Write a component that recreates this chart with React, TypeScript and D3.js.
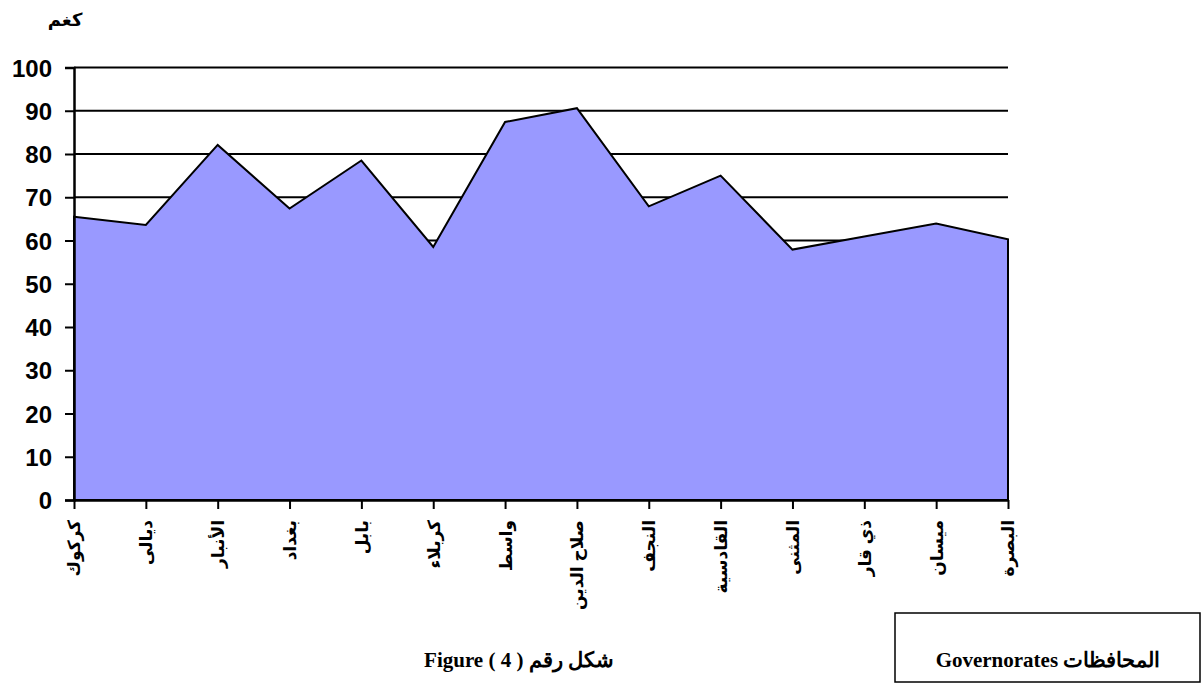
import { useRef, useEffect } from 'react';
import * as d3 from 'd3';

const governorates = [
  'كركوك',
  'ديالى',
  'الأنبار',
  'بغداد',
  'بابل',
  'كربلاء',
  'واسط',
  'صلاح الدين',
  'النجف',
  'القادسية',
  'المثنى',
  'ذي قار',
  'ميسان',
  'البصرة',
];
const values = [65.5, 63.6, 82.1, 67.4, 78.5, 58.5, 87.4, 90.6, 67.9, 75.0, 57.9, 60.9, 63.9, 60.3];
const yTicks = [0, 10, 20, 30, 40, 50, 60, 70, 80, 90, 100];

const unitLabel = 'كغم';
const captionLabel = 'شكل رقم ( 4 ) Figure';
const axisTitle = 'Governorates المحافظات';

export default function App() {
  const svgRef = useRef(null);

  useEffect(() => {
    const svg = d3.select(svgRef.current);
    svg.selectAll('*').remove();

    const left = 74;
    const right = 1008;
    const top = 67.5;
    const bottom = 500;
    const sans = "Arial, 'Liberation Sans', 'DejaVu Sans', sans-serif";
    const serif = "'Times New Roman', 'Liberation Serif', 'DejaVu Serif', serif";

    const x = d3.scalePoint().domain(governorates).range([left, right]);
    const y = d3.scaleLinear().domain([0, 100]).range([bottom, top]);

    // gridlines (behind the area)
    svg
      .append('g')
      .selectAll('line')
      .data(yTicks.filter((t) => t > 0))
      .enter()
      .append('line')
      .attr('x1', left)
      .attr('x2', right)
      .attr('y1', (d) => y(d))
      .attr('y2', (d) => y(d))
      .attr('stroke', 'black')
      .attr('stroke-width', 2);

    const area = d3
      .area()
      .x((d, i) => x(governorates[i]))
      .y0(y(0))
      .y1((d) => y(d));

    svg
      .append('path')
      .datum(values)
      .attr('d', area)
      .attr('fill', '#9999ff')
      .attr('stroke', 'black')
      .attr('stroke-width', 2)
      .attr('stroke-linejoin', 'miter');

    // y axis
    const yAxis = d3.axisLeft(y).tickValues(yTicks).tickSize(9).tickPadding(13);
    const yg = svg.append('g').attr('transform', `translate(${left},0)`).call(yAxis);
    yg.select('.domain').attr('stroke', 'black').attr('stroke-width', 2.5);
    yg.selectAll('.tick line').attr('stroke', 'black').attr('stroke-width', 2);
    yg.selectAll('.tick text')
      .attr('font-family', sans)
      .attr('font-weight', 'bold')
      .attr('font-size', 24)
      .attr('fill', 'black')
      .attr('dy', '0.36em');

    // x axis
    const xAxis = d3.axisBottom(x).tickSize(9).tickSizeOuter(0);
    const xg = svg.append('g').attr('transform', `translate(0,${bottom})`).call(xAxis);
    xg.select('.domain').attr('stroke', 'black').attr('stroke-width', 2.5);
    xg.selectAll('.tick line').attr('stroke', 'black').attr('stroke-width', 2);
    xg.selectAll('.tick text')
      .attr('font-family', sans)
      .attr('font-weight', 'bold')
      .attr('font-size', 17)
      .attr('fill', 'black')
      .attr('text-anchor', 'end')
      .attr('transform', 'rotate(-90)')
      .attr('x', -20)
      .attr('y', 0)
      .attr('dy', '0.35em');

    // unit label
    svg
      .append('text')
      .attr('x', 65)
      .attr('y', 26)
      .attr('text-anchor', 'middle')
      .attr('font-family', sans)
      .attr('font-weight', 'bold')
      .attr('font-size', 18)
      .text(unitLabel);

    // caption
    svg
      .append('text')
      .attr('x', 519)
      .attr('y', 667)
      .attr('text-anchor', 'middle')
      .attr('direction', 'rtl')
      .attr('font-family', serif)
      .attr('font-weight', 'bold')
      .attr('font-size', 21)
      .text(captionLabel);

    // axis title box
    svg
      .append('rect')
      .attr('x', 895)
      .attr('y', 613)
      .attr('width', 305)
      .attr('height', 69)
      .attr('fill', 'white')
      .attr('stroke', 'black')
      .attr('stroke-width', 1.5);

    svg
      .append('text')
      .attr('x', 1048)
      .attr('y', 667)
      .attr('text-anchor', 'middle')
      .attr('font-family', serif)
      .attr('font-weight', 'bold')
      .attr('font-size', 21)
      .text(axisTitle);
  }, []);

  return (
    <svg
      ref={svgRef}
      width={1203}
      height={685}
      style={{ position: 'absolute', left: 0, top: 0, background: 'white' }}
    />
  );
}
